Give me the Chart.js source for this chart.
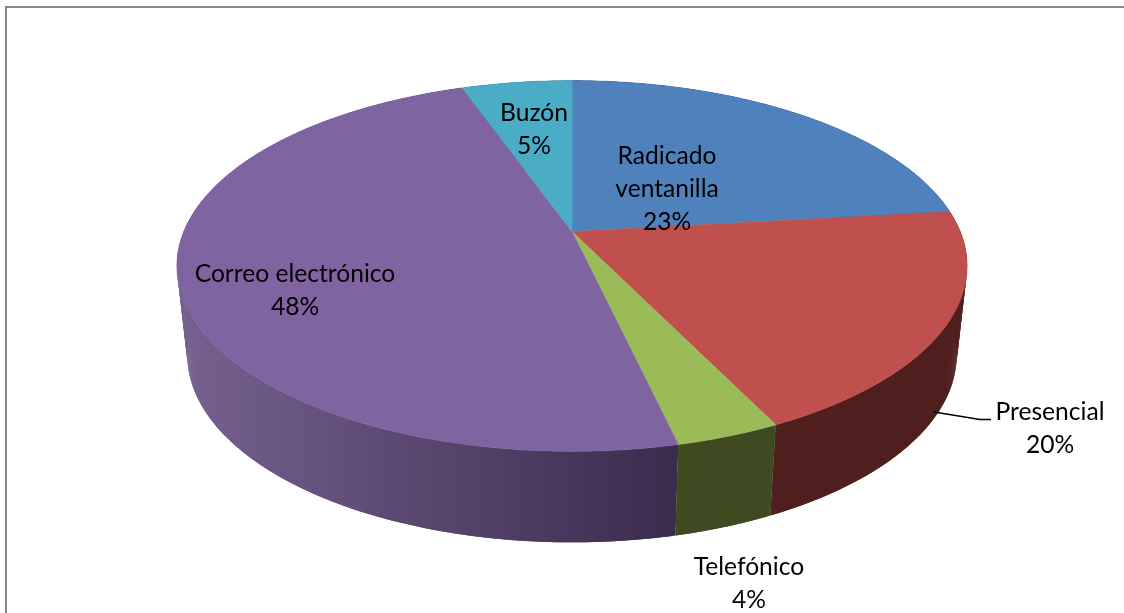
<!DOCTYPE html>
<html>
<head>
<meta charset="utf-8">
<title>Canales de recepción</title>
<script src="https://cdn.jsdelivr.net/npm/chart.js@4"></script>
<style>
  html, body { margin: 0; padding: 0; background: #fff; overflow: hidden; }
  canvas { display: block; }
</style>
</head>
<body>
<canvas id="pieChart" width="1124" height="613"></canvas>
<script>
// Chart data
const categories = ['Radicado ventanilla', 'Presencial', 'Telefónico', 'Correo electrónico', 'Buzón'];
const sliceValues = [23.2, 19.6, 3.6, 48.2, 5.4];
const percentLabels = ['23%', '20%', '4%', '48%', '5%'];

// Colours
const topColors = ['#4f81bd', '#c0504d', '#9bbb59', '#8064a2', '#4bacc6'];
const sideColorsLeft = ['#27405e', '#4e1f1d', '#465428', '#75608f', '#255663'];
const sideColorsRight = ['#27405e', '#4e1f1d', '#3f4a20', '#3b2b4d', '#255663'];

// Label placement: one entry per category, each text line with its centre
const labelLines = [['Radicado', 'ventanilla'], ['Presencial'], ['Telefónico'], ['Correo electrónico'], ['Buzón']];
const labelCentres = [[667, 156], [1050, 412], [749, 567], [295, 274], [534, 113]];
const lineStep = 33;

// Perspective of the disc: top face and bottom rim
const persp = 0.186;
const topFace = { cx: 572, cy: 231.5, a: 388.2, b: 179 };
const bottomRim = { cx: 572, cy: 320, a: 378, b: 181 };

function project(face, angle) {
    const u = Math.cos(angle);
    const v = Math.sin(angle);
    const w = 1 - persp * v;
    return [face.cx + face.a * u / w, face.cy + face.b * v / w];
}

function sampleAngles(start, end) {
    const steps = Math.max(2, Math.ceil((end - start) / 0.008));
    const out = [];
    for (let i = 0; i <= steps; i++) {
        out.push(start + (end - start) * i / steps);
    }
    return out;
}

function drawSide(ctx, arc, index) {
    const gradient = ctx.createLinearGradient(185, 0, 678, 0);
    gradient.addColorStop(0, sideColorsLeft[index]);
    gradient.addColorStop(1, sideColorsRight[index]);
    ctx.fillStyle = gradient;
    const angles = sampleAngles(arc.startAngle, arc.endAngle);
    for (let i = 0; i < angles.length - 1; i++) {
        // each quad runs one step past the next so no seams show
        const next = angles[Math.min(i + 2, angles.length - 1)];
        const p1 = project(topFace, angles[i]);
        const p2 = project(topFace, next);
        const p3 = project(bottomRim, next);
        const p4 = project(bottomRim, angles[i]);
        ctx.beginPath();
        ctx.moveTo(p1[0], p1[1]);
        ctx.lineTo(p2[0], p2[1]);
        ctx.lineTo(p3[0], p3[1]);
        ctx.lineTo(p4[0], p4[1]);
        ctx.closePath();
        ctx.fill();
    }
}

function drawTop(ctx, arc, index) {
    ctx.fillStyle = topColors[index];
    ctx.strokeStyle = topColors[index];
    ctx.lineWidth = 0.5;
    ctx.beginPath();
    ctx.moveTo(topFace.cx, topFace.cy);
    sampleAngles(arc.startAngle, arc.endAngle).forEach(angle => {
        const p = project(topFace, angle);
        ctx.lineTo(p[0], p[1]);
    });
    ctx.closePath();
    ctx.fill();
    ctx.stroke();
}

// Replaces the flat pie drawing: same arcs, tilted and extruded
const tiltedPie = {
    id: 'tiltedPie',
    beforeDatasetsDraw(chart) {
        const ctx = chart.ctx;
        const arcs = chart.getDatasetMeta(0).data;
        ctx.save();

        // frame, only top and left survive in the crop
        ctx.fillStyle = '#888888';
        ctx.fillRect(5, 6, 1119, 2);
        ctx.fillRect(5, 6, 2, 607);

        // back slices first
        [0, 4, 3, 1, 2].forEach(i => drawSide(ctx, arcs[i], i));
        arcs.forEach((arc, i) => drawTop(ctx, arc, i));

        // leader line of Presencial
        ctx.strokeStyle = '#000';
        ctx.lineWidth = 1.3;
        ctx.beginPath();
        ctx.moveTo(934, 412);
        ctx.lineTo(980, 419.5);
        ctx.lineTo(991, 419.5);
        ctx.stroke();

        // labels
        ctx.fillStyle = '#000';
        ctx.font = '24.6px Lato';
        ctx.textAlign = 'center';
        ctx.textBaseline = 'middle';
        categories.forEach((name, i) => {
            const lines = labelLines[i].concat(percentLabels[i]);
            lines.forEach((line, j) => {
                ctx.fillText(line, labelCentres[i][0], labelCentres[i][1] + j * lineStep);
            });
        });

        ctx.restore();
        return false;
    }
};

new Chart(document.getElementById('pieChart').getContext('2d'), {
    type: 'pie',
    data: {
        labels: categories,
        datasets: [{
            data: sliceValues,
            backgroundColor: topColors
        }]
    },
    options: {
        responsive: false,
        animation: false,
        plugins: {
            legend: { display: false },
            tooltip: { enabled: false }
        }
    },
    plugins: [tiltedPie]
});
</script>
</body>
</html>
